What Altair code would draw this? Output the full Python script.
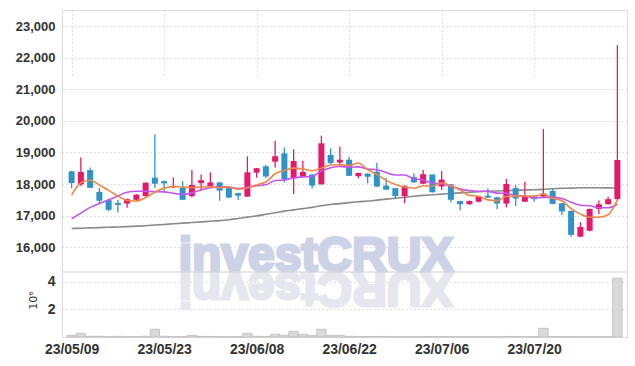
import altair as alt
import pandas as pd

# ---- data ----
opens = [18400, 17990, 18440, 17750, 17490, 17400, 17380, 17500, 17620, 18200,
         18090, 17890, 17880, 17620, 18030, 17940, 18050, 17880, 17710, 17600,
         18360, 18560, 18710, 18970, 18180, 18230, 18300, 17990, 18920, 18680,
         18770, 18250, 18330, 18390, 17950, 17870, 17620, 18220, 18010, 18300,
         17920, 17990, 17460, 17360, 17440, 17630, 17580, 17380, 17870, 17440,
         17630, 17600, 17780, 17390, 17150, 16330, 16520, 17210, 17360, 17520]
highs = [18420, 18840, 18520, 17880, 17500, 17500, 17540, 17680, 18060, 19570,
         18110, 18210, 18090, 18440, 18300, 18370, 18070, 17890, 17720, 18880,
         18510, 18600, 19360, 19160, 19100, 18740, 18320, 19530, 19130, 19190,
         18860, 18360, 18340, 18670, 18200, 17880, 17970, 18340, 18440, 18310,
         18410, 18000, 17470, 17480, 17620, 17860, 17590, 18160, 17970, 18070,
         17640, 19740, 17840, 17400, 17160, 16790, 17220, 17480, 17600, 22400]
lows = [17870, 17940, 17870, 17390, 17140, 17100, 17250, 17460, 17600, 17870,
        17760, 17880, 17490, 17570, 17810, 17920, 17470, 17560, 17490, 17590,
        18200, 18180, 18520, 18050, 17680, 18220, 17860, 17980, 18640, 18550,
        18250, 18180, 18020, 17900, 17810, 17520, 17390, 18040, 18000, 17730,
        17810, 17420, 17170, 17340, 17420, 17560, 17210, 17260, 17300, 17430,
        17440, 17580, 17360, 17020, 16330, 16320, 16500, 17040, 17350, 17500]
closes = [18030, 18380, 17880, 17470, 17180, 17340, 17520, 17660, 18040, 18010,
          18020, 17930, 17500, 17970, 18120, 18050, 17790, 17570, 17630, 18370,
          18500, 18240, 18880, 18160, 18730, 18380, 17950, 19290, 18660, 18770,
          18260, 18350, 18230, 17920, 17820, 17620, 17930, 18050, 18310, 17740,
          18140, 17500, 17360, 17460, 17600, 17570, 17380, 18000, 17540, 17620,
          17520, 17700, 17370, 17130, 16390, 16640, 17210, 17360, 17520, 18760]
ma5 = [17650, 18040, 18120, 17970, 17800, 17620, 17480, 17460, 17570, 17740,
       17870, 17930, 17900, 17890, 17905, 17914, 17886, 17900, 17832, 17882,
       17972, 18062, 18324, 18430, 18502, 18478, 18420, 18502, 18602, 18610,
       18586, 18666, 18454, 18306, 18116, 17988, 17904, 17868, 17946, 17930,
       18034, 17948, 17810, 17640, 17612, 17498, 17474, 17602, 17618, 17622,
       17612, 17676, 17550, 17468, 17222, 17046, 16948, 16946, 17024, 17498]
ma10 = [16900, 17080, 17260, 17380, 17500, 17620, 17740, 17770, 17770, 17760,
        17750, 17705, 17667, 17717, 17811, 17882, 17909, 17900, 17859, 17895,
        17943, 17974, 18112, 18131, 18192, 18225, 18241, 18413, 18516, 18556,
        18532, 18543, 18478, 18454, 18363, 18287, 18285, 18161, 18126, 18023,
        18011, 17926, 17839, 17793, 17771, 17766, 17711, 17706, 17629, 17617,
        17555, 17575, 17576, 17543, 17422, 17329, 17312, 17248, 17246, 17360]
ma_long = [16590, 16600, 16610, 16620, 16630, 16640, 16650, 16665, 16680, 16700,
           16720, 16740, 16760, 16780, 16800, 16820, 16840, 16870, 16910, 16950,
           16990, 17040, 17090, 17140, 17180, 17220, 17260, 17310, 17350, 17380,
           17410, 17440, 17460, 17490, 17520, 17550, 17580, 17610, 17640, 17660,
           17680, 17700, 17720, 17740, 17757, 17770, 17780, 17790, 17800, 17810,
           17820, 17830, 17850, 17864, 17870, 17880, 17883, 17880, 17877, 17873]
volume_m = [0.12, 0.27, 0.05, 0.05, 0.02, 0.05, 0.02, 0.03, 0.05, 0.56,
            0.05, 0.02, 0.03, 0.12, 0.05, 0.04, 0.03, 0.02, 0.03, 0.27,
            0.05, 0.03, 0.20, 0.12, 0.41, 0.20, 0.12, 0.56, 0.12, 0.12,
            0.05, 0.02, 0.03, 0.04, 0.04, 0.02, 0.02, 0.02, 0.02, 0.03,
            0.03, 0.02, 0.02, 0.02, 0.02, 0.02, 0.02, 0.04, 0.03, 0.03,
            0.03, 0.63, 0.04, 0.03, 0.03, 0.02, 0.02, 0.02, 0.02, 4.27]
tick_idx = [0, 10, 20, 30, 40, 50]
tick_labels = ["23/05/09", "23/05/23", "23/06/08", "23/06/22", "23/07/06", "23/07/20"]
price_ticks = [16000, 17000, 18000, 19000, 20000, 21000, 22000, 23000]
volume_ticks = [2, 4]
watermark = "investCRUX"

n = len(closes)
df = pd.DataFrame({
    "idx": list(range(n)), "open": opens, "high": highs, "low": lows,
    "close": closes, "ma5": ma5, "ma10": ma10, "malong": ma_long, "vol": volume_m,
})
df["dir"] = ["up" if c >= o else "down" for o, c in zip(opens, closes)]

W, H_PRICE, H_VOL = 565, 262, 65
H = H_PRICE + H_VOL
FONT = "Liberation Sans Narrow, Liberation Sans, sans-serif"
RED, BLUE = "#e5196b", "#2f93c8"
GRID = "#b9bdd6"

label_expr = " : ".join(
    f"datum.value == {i} ? '{t}'" for i, t in zip(tick_idx, tick_labels)) + " : ''"

x_enc = alt.X("idx:Q",
              scale=alt.Scale(domain=[-0.5, n - 0.5], nice=False, zero=False),
              axis=alt.Axis(values=tick_idx, labelExpr=label_expr, title=None,
                            grid=True, gridColor=GRID, gridDash=[1, 3],
                            domain=False, ticks=False, labelFont=FONT,
                            labelFontSize=14, labelFontWeight="bold",
                            labelColor="#333", labelPadding=5))

pscale = alt.Scale(domain=[15213, 23512], range=[H_PRICE, 0], nice=False, zero=False)
paxis = alt.Axis(orient="left", values=price_ticks, format=",d", title=None, grid=True,
                 gridColor=GRID, gridDash=[1, 3], domain=False, ticks=False,
                 labelFont=FONT, labelFontSize=13, labelFontWeight="bold",
                 labelColor="#333", labelPadding=7)

base = alt.Chart(df)

wm = alt.Chart(pd.DataFrame({"t": [watermark]})).mark_text(
    font="Liberation Sans", fontWeight="bold", fontSize=48, align="center",
    baseline="alphabetic", color="#cdd3e7", stroke="#cdd3e7", strokeWidth=3).encode(
    text="t:N", x=alt.value(254), y=alt.value(H_PRICE - 1))
wm_ref = alt.Chart(pd.DataFrame({"t": [watermark[::-1]]})).mark_text(
    font="Liberation Sans", fontWeight="bold", fontSize=48, align="center",
    baseline="alphabetic", angle=180, color="#e6e6ef", stroke="#e6e6ef",
    strokeWidth=3).encode(
    text="t:N", x=alt.value(254), y=alt.value(H_PRICE + 1))

color = alt.Color("dir:N", scale=alt.Scale(domain=["up", "down"], range=[RED, BLUE]),
                  legend=None)

wick = base.mark_rule(strokeWidth=1.3).encode(
    x=x_enc, y=alt.Y("low:Q", scale=pscale, axis=paxis), y2="high:Q", color=color)
body = base.mark_bar(size=6).encode(
    x=x_enc, y=alt.Y("open:Q", scale=pscale, axis=paxis), y2="close:Q", color=color)

def ma_line(col, c):
    return base.mark_line(color=c, strokeWidth=1.6, interpolate="monotone").encode(
        x=x_enc, y=alt.Y(f"{col}:Q", scale=pscale, axis=paxis))

price = alt.layer(
    ma_line("malong", "#8a8a8a"), wick, body,
    ma_line("ma10", "#c654ef"), ma_line("ma5", "#ee8646"))

vol = base.mark_bar(size=9.4, fill="#d9d9d9", stroke="#bcbcbc", strokeWidth=0.8).encode(
    x=x_enc,
    y=alt.Y("vol:Q", scale=alt.Scale(domain=[0, 4.72], range=[H, H_PRICE], nice=False),
            axis=alt.Axis(orient="left", values=volume_ticks, title="10⁶",
                          titleFont="DejaVu Sans", titleFontSize=11,
                          titleFontWeight="normal", titleColor="#333",
                          titleAngle=-90, titleX=-29, titleY=290,
                          titleAlign="center", titleBaseline="middle",
                          grid=True, gridColor=GRID, gridDash=[1, 3], domain=False,
                          ticks=False, labelFont=FONT, labelFontSize=14,
                          labelFontWeight="bold", labelColor="#333",
                          labelPadding=7)))

sep = alt.Chart(pd.DataFrame({"a": [0]})).mark_rule(color="#cfcfd6", strokeWidth=1.2).encode(
    x=alt.value(0), x2=alt.value(W), y=alt.value(H_PRICE))

chart = alt.layer(wm, wm_ref, vol, price, sep).resolve_scale(y="independent").properties(
    width=W, height=H,
    autosize=alt.AutoSizeParams(type="none"),
    padding={"left": 62, "top": 10, "right": 8, "bottom": 29},
).configure_view(stroke="#d0d0d8", strokeWidth=1).configure(background="white")

chart.save("out.html", embed_options={"renderer": "svg", "actions": False})
